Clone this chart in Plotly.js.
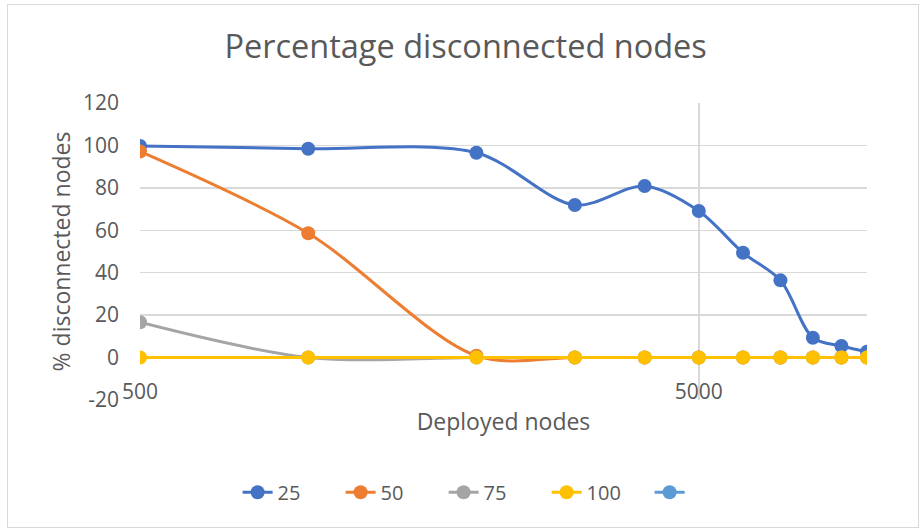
<!DOCTYPE html>
<html>
<head>
<meta charset="utf-8">
<script src="https://cdn.plot.ly/plotly-3.0.1.min.js"></script>
<style>
  html, body { margin: 0; padding: 0; background: #fff; }
  #chart { width: 922px; height: 531px; }
  #frame { position: absolute; left: 7px; top: 4px; width: 910px; height: 522px; border: 1px solid #d9d9d9; pointer-events: none; }
</style>
</head>
<body>
<div id="chart"></div>
<div id="frame"></div>
<script>
// deployed nodes (log axis)
const nodes = [500, 1000, 2000, 3000, 4000, 5000, 6000, 7000, 8000, 9000, 10000];

// % disconnected nodes per range
const r25  = [99.8, 98.5, 96.6, 71.9, 80.9, 69.1, 49.4, 36.4, 9.3, 5.4, 2.7];
const r50  = [97.2, 58.6, 0.8, 0, 0, 0, 0, 0, 0, 0, 0];
const r75  = [16.6, 0, 0, 0, 0, 0, 0, 0, 0, 0, 0];
const r100 = [0, 0, 0, 0, 0, 0, 0, 0, 0, 0, 0];

const seriesNames = ['25', '50', '75', '100'];
const seriesData = [r25, r50, r75, r100];
const colors = ['#4472C4', '#ED7D31', '#A5A5A5', '#FFC000', '#5B9BD5'];

const yTicks = [-20, 0, 20, 40, 60, 80, 100, 120];
const yTickText = ['-20', '0', '20', '40', '60', '80', '100', '120'];

const traces = seriesData.map((ys, i) => ({
  x: nodes,
  y: ys,
  name: seriesNames[i],
  type: 'scatter',
  mode: 'lines+markers',
  line: { color: colors[i], width: 3, shape: 'spline', smoothing: 0.9 },
  marker: { color: colors[i], size: 14 },
}));

// empty fifth series, only shows in legend
traces.push({
  x: [null],
  y: [null],
  name: ' ',
  type: 'scatter',
  mode: 'lines+markers',
  line: { color: colors[4], width: 3 },
  marker: { color: colors[4], size: 14 },
});

const txt = '#595959';

const layout = {
  width: 922,
  height: 531,
  margin: { l: 140, r: 55, t: 103, b: 131 },
  paper_bgcolor: '#fff',
  plot_bgcolor: '#fff',
  font: { family: 'Open Sans, sans-serif', color: txt },
  title: {
    text: 'Percentage disconnected nodes',
    font: { family: 'Open Sans, sans-serif', size: 32.5, color: txt },
    x: 0.505, xanchor: 'center', y: 0.912, yanchor: 'middle',
  },
  xaxis: {
    type: 'log',
    range: [Math.log10(500), Math.log10(10000)],
    tickvals: [500, 5000],
    ticktext: ['500', '5000'],
    ticklabelposition: 'inside',
    ticklabeloverflow: 'allow',
    ticklabelstandoff: -6,
    tickfont: { size: 21, color: txt },
    showgrid: true,
    gridcolor: '#d9d9d9',
    gridwidth: 1.5,
    zeroline: false,
    showline: false,
    ticks: '',
    title: { text: 'Deployed nodes', font: { size: 23, color: txt }, standoff: 10 },
  },
  yaxis: {
    range: [-20.05, 120.05],
    tickvals: yTicks,
    ticktext: yTickText,
    tickfont: { size: 21, color: txt },
    ticklabelstandoff: 20,
    gridcolor: '#d9d9d9',
    gridwidth: 1.5,
    zeroline: false,
    showline: false,
    ticks: '',
    title: { text: '% disconnected nodes', font: { size: 23, color: txt }, standoff: 5 },
  },
  legend: {
    orientation: 'h',
    xref: 'container', yref: 'container',
    x: 0.537, xanchor: 'center',
    y: 0.073, yanchor: 'middle',
    font: { size: 20, color: txt },
    entrywidth: 58,
  },
  showlegend: true,
};

Plotly.newPlot('chart', traces, layout, { displayModeBar: false, staticPlot: true });
</script>
</body>
</html>
